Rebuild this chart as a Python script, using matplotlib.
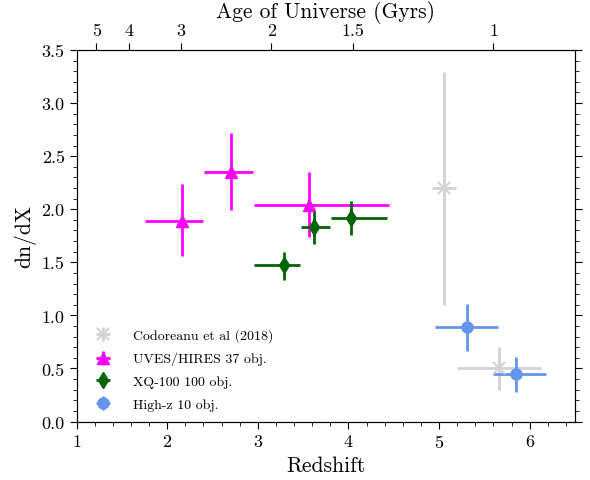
import matplotlib
matplotlib.use('Agg')
import matplotlib.pyplot as plt
import numpy as np

plt.rcParams['font.family'] = 'serif'
plt.rcParams['font.serif'] = ['cmr10']
plt.rcParams['mathtext.fontset'] = 'cm'
plt.rcParams['axes.unicode_minus'] = False
plt.rcParams['axes.formatter.use_mathtext'] = True

# Codoreanu et al (2018)
cod_z = [5.05, 5.66]
cod_zlo = [4.92, 5.20]
cod_zhi = [5.19, 6.13]
cod_dndx = [2.20, 0.50]
cod_lo = [1.10, 0.30]
cod_hi = [3.29, 0.70]

# UVES/HIRES
uves_z = [2.16, 2.70, 3.57]
uves_zlo = [1.755, 2.41, 2.96]
uves_zhi = [2.40, 2.95, 4.45]
uves_dndx = [1.89, 2.35, 2.04]
uves_lo = [1.56, 1.99, 1.74]
uves_hi = [2.24, 2.72, 2.35]

# XQ-100
xq_z = [3.29, 3.62, 4.03]
xq_zlo = [2.96, 3.475, 3.81]
xq_zhi = [3.47, 3.80, 4.43]
xq_dndx = [1.47, 1.83, 1.92]
xq_lo = [1.33, 1.67, 1.76]
xq_hi = [1.60, 1.98, 2.08]

# High-z
hz_z = [5.305, 5.85]
hz_zlo = [4.95, 5.60]
hz_zhi = [5.65, 6.18]
hz_dndx = [0.89, 0.45]
hz_lo = [0.66, 0.28]
hz_hi = [1.11, 0.61]

# top axis: age of universe
age_labels = ['5', '4', '3', '2', '1.5', '1']
age_z = [1.22, 1.58, 2.15, 3.15, 4.05, 5.6]


def errs(c, lo, hi):
    c = np.array(c)
    return [c - np.array(lo), np.array(hi) - c]


fig = plt.figure(figsize=(5.9, 4.81), dpi=100)
ax = fig.add_axes([0.1297, 0.1216, 0.8449, 0.7723])

ax.errorbar(cod_z, cod_dndx, xerr=errs(cod_z, cod_zlo, cod_zhi),
            yerr=errs(cod_dndx, cod_lo, cod_hi), fmt='x', color='lightgrey',
            ms=9, mew=1.5, elinewidth=2, label='Codoreanu et al (2018)')
ax.errorbar(uves_z, uves_dndx, xerr=errs(uves_z, uves_zlo, uves_zhi),
            yerr=errs(uves_dndx, uves_lo, uves_hi), fmt='^', color='magenta',
            ms=8, elinewidth=2, label='UVES/HIRES 37 obj.')
ax.errorbar(xq_z, xq_dndx, xerr=errs(xq_z, xq_zlo, xq_zhi),
            yerr=errs(xq_dndx, xq_lo, xq_hi), fmt='d', color='darkgreen',
            ms=8, elinewidth=2, label='XQ-100 100 obj.')
ax.errorbar(hz_z, hz_dndx, xerr=errs(hz_z, hz_zlo, hz_zhi),
            yerr=errs(hz_dndx, hz_lo, hz_hi), fmt='o', color='cornflowerblue',
            ms=8, elinewidth=2, label='High-z 10 obj.')

ax.set_xlim(1, 6.5)
ax.set_ylim(0, 3.5)
ax.set_xticks([1, 2, 3, 4, 5, 6])
ax.set_xticks(np.arange(1, 6.5, 0.2), minor=True)
ax.set_yticks(np.arange(0, 3.51, 0.5))
ax.set_yticks(np.arange(0, 3.51, 0.1), minor=True)
ax.set_yticklabels(['%.1f' % v for v in np.arange(0, 3.51, 0.5)])
ax.tick_params(which='both', direction='out', right=True, labelsize=13)
ax.tick_params(which='major', length=5)
ax.tick_params(which='minor', length=3)
ax.set_xlabel('Redshift', fontsize=15.5)
ax.set_ylabel('dn/dX', fontsize=15.5)

top = ax.twiny()
top.set_xlim(ax.get_xlim())
top.set_xticks(age_z)
top.set_xticklabels(age_labels)
top.tick_params(direction='out', length=5, labelsize=13)
top.set_xlabel('Age of Universe (Gyrs)', fontsize=15.5)

ax.legend(loc='lower left', frameon=False, fontsize=10, labelspacing=0.72,
          handletextpad=1.2, bbox_to_anchor=(0.0, -0.005))

fig.savefig('out.png', dpi=100)
